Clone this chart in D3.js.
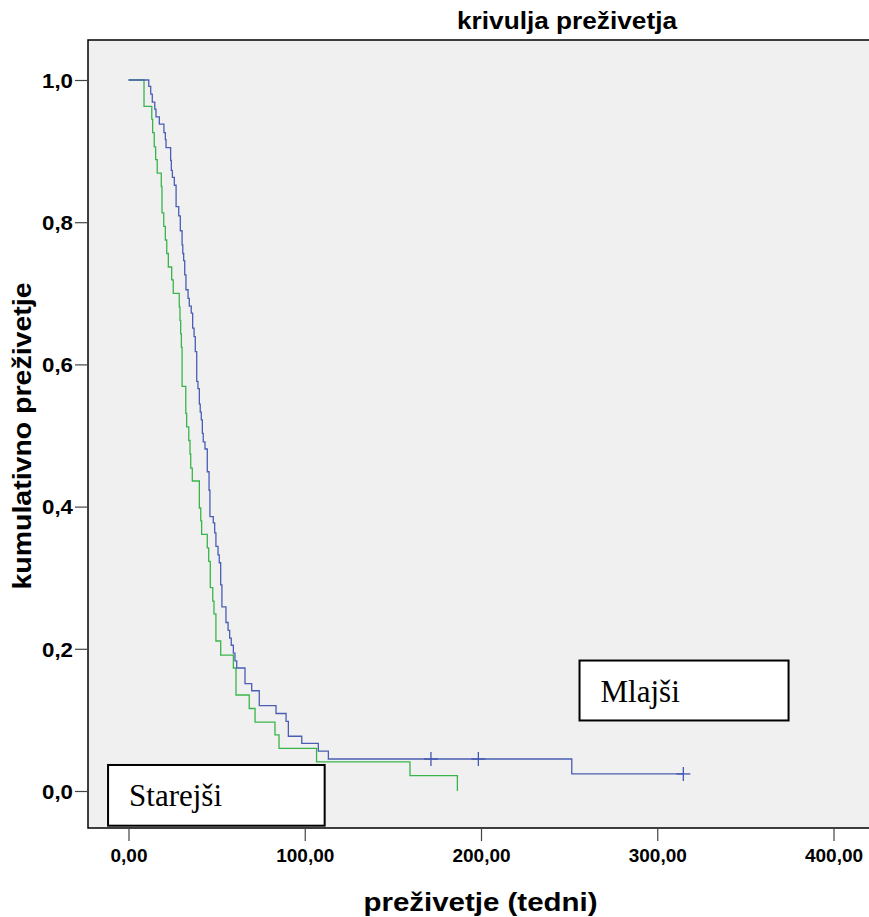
<!DOCTYPE html>
<html>
<head>
<meta charset="utf-8">
<script src="https://cdn.jsdelivr.net/npm/d3@7"></script>
<style>
  body { margin: 0; background: #fff; }
  text { font-family: "Liberation Sans", Arial, sans-serif; }
</style>
</head>
<body>
<div id="chart"></div>
<script>
// Kaplan-Meier steps (time in weeks, cumulative survival after the drop)
const mlajsiTime = [0, 11.5, 12.6, 13.5, 14.9, 15.6, 17.5, 20.1, 20.9, 21.3, 23.9, 24.3, 24.9, 26.0, 27.0, 28.5, 29.4, 30.4, 30.8, 31.3, 31.9, 32.6, 33.8, 34.5, 35.6, 36.4, 37.2, 37.9, 38.7, 39.4, 40.2, 40.7, 41.3, 41.9, 42.4, 43.4, 44.7, 45.7, 46.2, 48.1, 48.9, 49.6, 50.8, 51.5, 52.3, 53.0, 55.3, 56.5, 57.4, 58.3, 59.5, 60.4, 61.4, 66.1, 69.9, 74.2, 83.7, 89.4, 90.7, 98.3, 107.7, 113.4, 251.5, 314.8];
const mlajsiSurv = [1, 0.991, 0.980, 0.969, 0.959, 0.948, 0.938, 0.926, 0.916, 0.905, 0.887, 0.873, 0.863, 0.852, 0.822, 0.809, 0.788, 0.768, 0.756, 0.746, 0.726, 0.705, 0.693, 0.682, 0.672, 0.651, 0.639, 0.618, 0.576, 0.566, 0.544, 0.533, 0.522, 0.503, 0.491, 0.481, 0.449, 0.423, 0.386, 0.377, 0.363, 0.344, 0.332, 0.321, 0.290, 0.259, 0.237, 0.226, 0.215, 0.205, 0.194, 0.183, 0.173, 0.151, 0.141, 0.120, 0.109, 0.098, 0.077, 0.067, 0.056, 0.045, 0.024, 0.024];
const mlajsiCensorTime = [171.6, 198.5, 314.8];
const mlajsiCensorSurv = [0.045, 0.045, 0.024];

const starejsiTime = [0, 8.8, 13.2, 13.7, 14.6, 15.4, 16.3, 18.6, 19.0, 20.0, 20.9, 21.7, 22.6, 24.5, 25.4, 28.8, 29.2, 29.6, 30.0, 30.4, 32.5, 33.0, 34.2, 34.9, 35.3, 36.2, 40.2, 41.0, 41.5, 44.7, 45.5, 46.4, 47.8, 48.5, 49.6, 52.3, 59.5, 61.0, 68.5, 71.8, 83.1, 85.4, 106.7, 159.7, 186.6];
const starejsiSurv = [1, 0.963, 0.945, 0.926, 0.906, 0.888, 0.869, 0.850, 0.813, 0.794, 0.775, 0.756, 0.737, 0.719, 0.700, 0.681, 0.662, 0.643, 0.624, 0.569, 0.531, 0.512, 0.493, 0.474, 0.454, 0.436, 0.398, 0.380, 0.361, 0.342, 0.323, 0.286, 0.267, 0.249, 0.211, 0.191, 0.173, 0.135, 0.116, 0.097, 0.079, 0.060, 0.041, 0.0215, 0];

const xTicks = [0, 100, 200, 300, 400];
const yTicks = [0, 0.2, 0.4, 0.6, 0.8, 1.0];

const title = "krivulja preživetja";
const xTitle = "preživetje (tedni)";
const yTitle = "kumulativno preživetje";

// legend boxes: label, [t0, t1], [s0, s1] in data units
const boxLabels = ["Mlajši", "Starejši"];
const boxTime = [[255.9, 374.5], [-11.6, 111.3]];
const boxSurv = [[0.1835, 0.0992], [0.0366, -0.0488]];

const width = 869, height = 917;
const frame = { left: 88, top: 40, right: 880, bottom: 828 };

const svg = d3.select("#chart")
  .append("svg")
  .attr("width", width)
  .attr("height", height);

const xScale = d3.scaleLinear().domain([0, 400]).range([128.5, 833.5]);
const yScale = d3.scaleLinear().domain([0, 1]).range([791, 80]);

// plot background
svg.append("rect")
  .attr("x", frame.left)
  .attr("y", frame.top)
  .attr("width", frame.right - frame.left)
  .attr("height", frame.bottom - frame.top)
  .attr("fill", "#f0f0f0")
  .attr("stroke", "#000")
  .attr("stroke-width", 1.5);

/*
AXES
*/
const commaFmt = f => v => d3.format(f)(v).replace(".", ",");

const xAxis = svg.append("g")
  .attr("transform", `translate(0,${frame.bottom})`)
  .call(d3.axisBottom(xScale).tickValues(xTicks).tickSize(13).tickPadding(8).tickFormat(commaFmt(".2f")));

const yAxis = svg.append("g")
  .attr("transform", `translate(${frame.left},0)`)
  .call(d3.axisLeft(yScale).tickValues(yTicks).tickSize(13).tickPadding(2).tickFormat(commaFmt(".1f")));

[xAxis, yAxis].forEach(function (ax) {
  ax.select(".domain").remove();
  ax.selectAll(".tick line").attr("stroke", "#444").attr("stroke-width", 1.2);
  ax.selectAll(".tick text")
    .attr("fill", "#000")
    .style("font-family", "'Liberation Sans', Arial, sans-serif")
    .style("font-weight", "bold")
    .style("font-size", "19px");
});
yAxis.selectAll(".tick text")
  .attr("dy", "0.36em")
  .style("font-size", "20px")
  .attr("textLength", 31)
  .attr("lengthAdjust", "spacingAndGlyphs");

/*
CURVES
*/
const line = d3.line()
  .x(d => xScale(d[0]))
  .y(d => yScale(d[1]))
  .curve(d3.curveStepAfter);

svg.append("path")
  .datum(d3.zip(starejsiTime, starejsiSurv))
  .attr("d", line)
  .attr("fill", "none")
  .attr("stroke", "#38b54a")
  .attr("stroke-width", 1.3);

svg.append("path")
  .datum(d3.zip(mlajsiTime, mlajsiSurv))
  .attr("d", line)
  .attr("fill", "none")
  .attr("stroke", "#4a5eb3")
  .attr("stroke-width", 1.3);

// censoring marks
const censor = svg.append("g")
  .selectAll("g")
  .data(d3.zip(mlajsiCensorTime, mlajsiCensorSurv))
  .join("g")
  .attr("transform", d => `translate(${xScale(d[0])},${yScale(d[1])})`)
  .attr("stroke", "#4257b0")
  .attr("stroke-width", 1.3);
censor.append("line").attr("x1", -7).attr("x2", 7);
censor.append("line").attr("y1", -7).attr("y2", 7);

/*
LEGEND BOXES
*/
boxLabels.forEach(function (label, i) {
  const x0 = xScale(boxTime[i][0]), x1 = xScale(boxTime[i][1]);
  const y0 = yScale(boxSurv[i][0]), y1 = yScale(boxSurv[i][1]);
  svg.append("rect")
    .attr("x", x0).attr("y", y0)
    .attr("width", x1 - x0).attr("height", y1 - y0)
    .attr("fill", "#fff")
    .attr("stroke", "#000")
    .attr("stroke-width", 2);
  svg.append("text")
    .attr("x", x0 + 21)
    .attr("y", y0 + 41)
    .style("font-family", "'Liberation Serif', 'Times New Roman', serif")
    .style("font-size", "31px")
    .text(label);
});

/*
TITLES
*/
svg.append("text")
  .attr("x", 567)
  .attr("y", 29)
  .attr("text-anchor", "middle")
  .style("font-weight", "bold")
  .style("font-size", "23px")
  .attr("textLength", 220)
  .attr("lengthAdjust", "spacingAndGlyphs")
  .text(title);

svg.append("text")
  .attr("x", 480.5)
  .attr("y", 911)
  .attr("text-anchor", "middle")
  .style("font-weight", "bold")
  .style("font-size", "26px")
  .attr("textLength", 234)
  .attr("lengthAdjust", "spacingAndGlyphs")
  .text(xTitle);

svg.append("text")
  .attr("transform", "translate(31,436) rotate(-90)")
  .attr("text-anchor", "middle")
  .style("font-weight", "bold")
  .style("font-size", "26px")
  .attr("textLength", 307)
  .attr("lengthAdjust", "spacingAndGlyphs")
  .text(yTitle);
</script>
</body>
</html>
